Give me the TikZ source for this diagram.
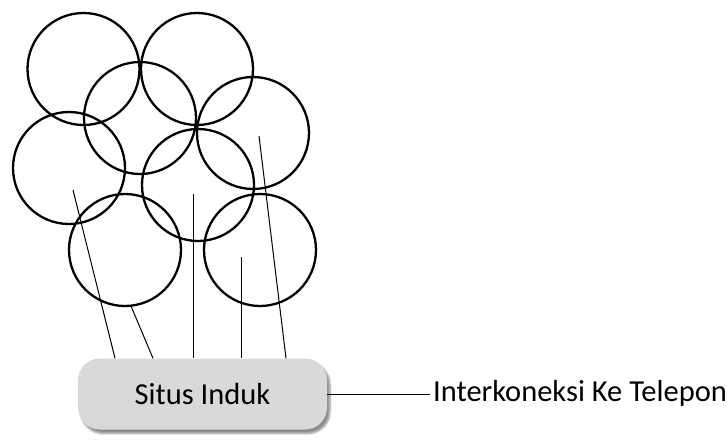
\documentclass[tikz,border=0pt]{standalone}
\usepackage{fontspec}
\setmainfont{Carlito}
\usetikzlibrary{shadows.blur}
\begin{document}
\begin{tikzpicture}[x=1pt,y=-1pt,
  ring/.style={circle,draw,line width=2.3pt,minimum size=112pt,inner sep=0pt},
  link/.style={draw,line width=1pt},
  hub/.style={rounded corners=22pt,fill=black!15,minimum width=249pt,minimum height=71pt,inner sep=0pt,
    font=\fontsize{30.5}{36}\selectfont,
    blur shadow={shadow xshift=3pt,shadow yshift=-4pt,shadow blur steps=6,shadow opacity=45}},
  lbl/.style={font=\fontsize{30.5}{36}\selectfont,anchor=west,inner sep=0pt}]
\useasboundingbox (0,0) rectangle (727,439);
\node[ring] (c1) at (83.5,69) {};
\node[ring] (c2) at (197,69) {};
\node[ring] (c3) at (140,118) {};
\node[ring] (c4) at (253,133) {};
\node[ring] (c5) at (69,168) {};
\node[ring] (c6) at (198,185) {};
\node[ring] (c7) at (125,250) {};
\node[ring] (c8) at (260,250) {};
\node[hub] (box) at (202.5,394) {Situs Induk};
\node[lbl] (tel) at (433,393) {Interkoneksi Ke Telepon};
\coordinate (s1) at (73,190);
\coordinate (s2) at (131,306);
\coordinate (s3) at (193,194);
\coordinate (s4) at (241,257);
\coordinate (s5) at (259,136);
\path[link] (s1) -- (box.north -| 115,0);
\path[link] (s2) -- (box.north -| 153,0);
\path[link] (s3) -- (box.north -| 193,0);
\path[link] (s4) -- (box.north -| 241,0);
\path[link] (s5) -- (box.north -| 286,0);
\path[link,shorten >=3pt] (box.east) -- (box.east -| tel.west);
\end{tikzpicture}
\end{document}
